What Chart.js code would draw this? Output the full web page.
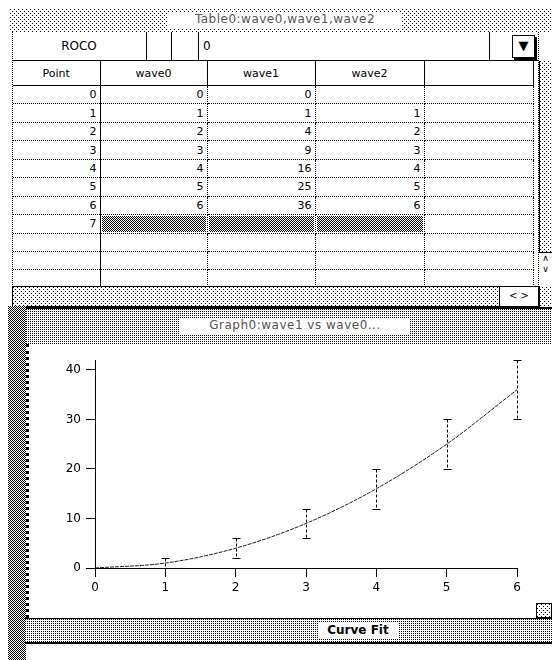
<!DOCTYPE html>
<html>
<head>
<meta charset="utf-8">
<script src="https://cdn.jsdelivr.net/npm/chart.js@4"></script>
<style>
  html, body { margin: 0; padding: 0; background: #fff; }
  body { width: 552px; height: 660px; position: relative; overflow: hidden;
         font-family: "DejaVu Sans", Verdana, sans-serif; font-size: 11px; color: #000; }
  .abs { position: absolute; box-sizing: border-box; }
  .dotsLight { background-color: #fff;
    background-image: url("data:image/svg+xml,%3Csvg xmlns='http://www.w3.org/2000/svg' width='4' height='4'%3E%3Crect x='0' y='0' width='1' height='1'/%3E%3Crect x='2' y='2' width='1' height='1'/%3E%3C/svg%3E"); }
  .dotsMid { background-color: #fff;
    background-image: url("data:image/svg+xml,%3Csvg xmlns='http://www.w3.org/2000/svg' width='2' height='2'%3E%3Crect x='0' y='0' width='1' height='1'/%3E%3C/svg%3E"); }
  .checker { background-color: #fff;
    background-image: url("data:image/svg+xml,%3Csvg xmlns='http://www.w3.org/2000/svg' width='2' height='2'%3E%3Crect x='0' y='0' width='1' height='1'/%3E%3Crect x='1' y='1' width='1' height='1'/%3E%3C/svg%3E"); }
  .title { text-align: center; color: #555; font-size: 12px; letter-spacing: 0.5px; }
  table { border-collapse: collapse; table-layout: fixed; }
  td { padding: 0 3px; height: 18.45px; text-align: right; border-bottom: 1px dotted #000;
       border-right: 1px dotted #000; box-sizing: border-box; line-height: 17px; color: #000; }
  td.first { border-right: 1px solid #000; }
  th { font-weight: normal; height: 22px; border-bottom: 1px solid #000; border-right: 1px solid #000; }
  td.sel { background-clip: content-box; padding: 1px; }
</style>
</head>
<body>
<!-- table window -->
<div class="abs dotsLight" style="left:10px;top:9px;width:542px;height:23px;"></div>
<div class="abs title" style="left:168px;top:12px;width:234px;height:16px;background:#fff;">Table0:wave0,wave1,wave2</div>

<div class="abs" style="left:12px;top:32px;width:527px;height:255px;border-left:1px dotted #000;border-right:1px dotted #000;border-bottom:1px solid #000;"></div>
<div class="abs" style="left:12px;top:32px;width:527px;height:29px;border-bottom:1px solid #000;"></div>
<div class="abs" style="left:12px;top:32px;width:135px;height:29px;line-height:28px;text-align:center;font-size:12px;border-right:1px solid #000;">ROCO</div>
<div class="abs" style="left:146px;top:32px;width:26px;height:29px;border-right:1px solid #000;"></div>
<div class="abs" style="left:171px;top:32px;width:28px;height:29px;border-right:1px solid #000;"></div>
<div class="abs" style="left:199px;top:32px;width:291px;height:29px;line-height:28px;padding-left:4px;font-size:12px;border-right:1px solid #000;">0</div>
<div class="abs" style="left:512px;top:35px;width:23px;height:23px;border:1px solid #000;box-shadow:2px 2px 0 #000;font-size:13px;line-height:20px;text-align:center;">&#9660;</div>

<div class="abs" style="left:13px;top:61px;width:526px;">
  <table id="tbl" style="width:520px;">
    <colgroup><col style="width:87px"><col style="width:107px"><col style="width:108px"><col style="width:109px"><col style="width:109px"></colgroup>
    <thead id="thead"></thead>
    <tbody id="tbody"></tbody>
  </table>
</div>
<!-- scrollbars -->
<div class="abs dotsLight" style="left:539px;top:61px;width:13px;height:246px;border-left:1px solid #000;"></div>
<div class="abs" style="left:539px;top:252px;width:13px;height:34px;border-top:1px solid #000;background:#fff;font-size:9px;line-height:11px;text-align:center;">&#8743;<br>&#8744;</div>
<div class="abs dotsLight" style="left:12px;top:287px;width:527px;height:20px;border:1px solid #000;border-top:none;"></div>
<div class="abs" style="left:499px;top:287px;width:40px;height:20px;border-left:1px solid #000;border-right:1px solid #000;border-bottom:1px solid #000;background:#fff;font-size:10px;line-height:18px;text-align:center;">&lt; &gt;</div>

<!-- graph window -->
<div class="abs checker" style="left:8px;top:306px;width:18px;height:354px;"></div>
<div class="abs dotsMid" style="left:26px;top:307px;width:526px;height:37px;border-top:2px solid #000;"></div>
<div class="abs title" style="left:180px;top:318px;width:230px;height:16px;background:#fff;">Graph0:wave1 vs wave0...</div>
<div class="abs" style="left:26px;top:344px;width:526px;height:274px;background:#fff;border-left:3px dotted #000;"></div>
<div class="abs" style="left:33px;top:344px;width:519px;height:273px;">
  <canvas id="graph" width="519" height="273"></canvas>
</div>
<div class="abs dotsLight" style="left:536px;top:603px;width:16px;height:15px;border:1px solid #000;"></div>
<div class="abs dotsMid" style="left:25px;top:618px;width:527px;height:26px;border-top:1px solid #000;border-bottom:2px solid #000;"></div>
<div class="abs" style="left:318px;top:622px;width:80px;height:17px;background:#fff;font-weight:bold;font-size:12px;text-align:center;line-height:17px;">Curve Fit</div>

<script>
const columns = ['Point', 'wave0', 'wave1', 'wave2'];
const points = [0, 1, 2, 3, 4, 5, 6, 7];
const wave0 = [0, 1, 2, 3, 4, 5, 6];
const wave1 = [0, 1, 4, 9, 16, 25, 36];
const wave2 = [null, 1, 2, 3, 4, 5, 6];
const emptyRows = 3;

// table
let head = '<tr>' + columns.map(c => '<th>' + c + '</th>').join('') + '<th></th></tr>';
document.getElementById('thead').innerHTML = head;
let rows = '';
points.forEach((p, i) => {
    rows += '<tr><td class="first">' + p + '</td>';
    [wave0, wave1, wave2].forEach(w => {
        if (i >= wave0.length) rows += '<td class="sel checker"></td>';
        else rows += '<td>' + (w[i] == null ? '' : w[i]) + '</td>';
    });
    rows += '<td></td></tr>';
});
for (let k = 0; k < emptyRows; k++) {
    rows += '<tr><td class="first"></td><td></td><td></td><td></td><td></td></tr>';
}
document.getElementById('tbody').innerHTML = rows;

// error bars from wave2
const errorBars = {
    id: 'errorBars',
    afterDatasetsDraw(chart) {
        const ctx = chart.ctx;
        const xs = chart.scales.x, ys = chart.scales.y;
        ctx.save();
        ctx.strokeStyle = '#000';
        ctx.lineWidth = 1;
        wave0.forEach((x, i) => {
            const e = wave2[i];
            if (e == null) return;
            const px = Math.round(xs.getPixelForValue(x)) + 0.5;
            const top = Math.round(ys.getPixelForValue(wave1[i] + e)) + 0.5;
            const bot = Math.round(ys.getPixelForValue(wave1[i] - e)) + 0.5;
            ctx.setLineDash([3, 2]);
            ctx.beginPath();
            ctx.moveTo(px, top);
            ctx.lineTo(px, bot);
            ctx.stroke();
            ctx.setLineDash([]);
            ctx.beginPath();
            ctx.moveTo(px - 4, top); ctx.lineTo(px + 4, top);
            ctx.moveTo(px - 4, bot); ctx.lineTo(px + 4, bot);
            ctx.stroke();
        });
        ctx.restore();
    }
};

const axisFont = { family: 'DejaVu Sans', size: 12 };

new Chart(document.getElementById('graph'), {
    type: 'line',
    data: {
        datasets: [{
            data: wave0.map((x, i) => ({ x: x, y: wave1[i] })),
            borderColor: '#222',
            borderWidth: 1,
            borderDash: [4, 1],
            pointRadius: 0,
            cubicInterpolationMode: 'monotone',
            fill: false,
        }],
    },
    options: {
        responsive: false,
        animation: false,
        layout: { padding: { top: 16, right: 35, left: 0, bottom: 0 } },
        plugins: { legend: { display: false }, tooltip: { enabled: false } },
        scales: {
            x: {
                type: 'linear', min: 0, max: 6,
                afterFit(s) { s.height = 49; },
                ticks: { stepSize: 1, color: '#000', font: axisFont, padding: 4 },
                grid: { drawOnChartArea: false, tickLength: 9, color: '#000' },
                border: { color: '#000' },
            },
            y: {
                min: 0, max: 42,
                afterFit(s) { s.width = 62; },
                ticks: { stepSize: 10, includeBounds: false, color: '#000', font: axisFont, padding: 5 },
                grid: { drawOnChartArea: false, tickLength: 9, color: '#000' },
                border: { color: '#000' },
            },
        },
    },
    plugins: [errorBars],
});
</script>
</body>
</html>
